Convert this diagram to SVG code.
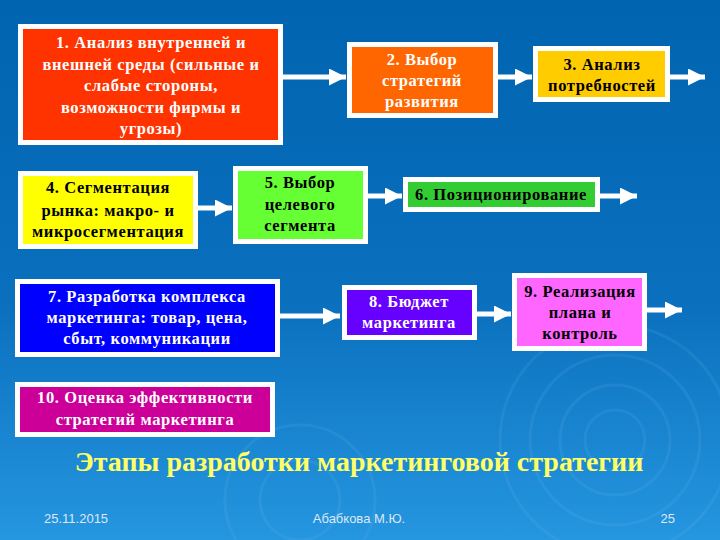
<svg xmlns="http://www.w3.org/2000/svg" width="720" height="540" viewBox="0 0 720 540">
<defs>
<linearGradient id="bg" x1="0" y1="0" x2="0" y2="1">
<stop offset="0" stop-color="#0064b0"/>
<stop offset="0.55" stop-color="#0a6fbd"/>
<stop offset="1" stop-color="#2596e0"/>
</linearGradient>
<marker id="ah" viewBox="0 0 10 10" refX="10" refY="5" markerWidth="4" markerHeight="3.4" orient="auto" markerUnits="strokeWidth">
<path d="M0,0 L10,5 L0,10 Z" fill="#ffffff"/>
</marker>
<style>
.box{stroke:#ffffff;stroke-width:5}
.t{font-family:"Liberation Serif","Times New Roman",serif;font-weight:bold;font-size:16.5px;text-anchor:middle;letter-spacing:0.6px}
.w{fill:#ffffff}
.k{fill:#000000}
.con{stroke:#ffffff;stroke-width:5;fill:none;marker-end:url(#ah)}
.rip{fill:none;stroke:#8fcdf7;stroke-opacity:0.1;stroke-width:3}
.foot{font-family:"Liberation Sans",Arial,sans-serif;font-size:13px;fill:#dde8f5}
</style>
</defs>
<rect x="0" y="0" width="720" height="540" fill="url(#bg)"/>
<g id="ripples">
<circle class="rip" cx="615" cy="440" r="30"/>
<circle class="rip" cx="615" cy="440" r="55"/>
<circle class="rip" cx="615" cy="440" r="85"/>
<circle class="rip" cx="615" cy="440" r="115"/>
<circle class="rip" cx="300" cy="500" r="40"/>
<circle class="rip" cx="300" cy="500" r="75"/>
</g>
<g id="connectors">
<line class="con" x1="283" y1="77" x2="346" y2="77"/>
<line class="con" x1="498" y1="77" x2="532" y2="77"/>
<line class="con" x1="670" y1="77" x2="705" y2="77"/>
<line class="con" x1="198" y1="208" x2="232" y2="208"/>
<line class="con" x1="368" y1="196" x2="402" y2="196"/>
<line class="con" x1="600" y1="196" x2="637" y2="196"/>
<line class="con" x1="280" y1="316" x2="340" y2="316"/>
<line class="con" x1="477" y1="314" x2="511" y2="314"/>
<line class="con" x1="647" y1="310" x2="682" y2="310"/>
</g>
<g id="n1">
<rect class="box" x="20.5" y="26.5" width="260" height="116" fill="#ff3300"/>
<text class="t w" x="151" y="48">1. Анализ внутренней и</text>
<text class="t w" x="151" y="69.5">внешней среды (сильные и</text>
<text class="t w" x="151" y="91">слабые стороны,</text>
<text class="t w" x="151" y="112.5">возможности фирмы и</text>
<text class="t w" x="151" y="134">угрозы)</text>
</g>
<g id="n2">
<rect class="box" x="349.5" y="44.5" width="146" height="71" fill="#ff6600"/>
<text class="t w" x="422" y="65">2. Выбор</text>
<text class="t w" x="422" y="86">стратегий</text>
<text class="t w" x="422" y="107">развития</text>
</g>
<g id="n3">
<rect class="box" x="535.5" y="48.5" width="132" height="51" fill="#ffcc00"/>
<text class="t k" x="602" y="70">3. Анализ</text>
<text class="t k" x="602" y="91">потребностей</text>
</g>
<g id="n4">
<rect class="box" x="20.5" y="173.5" width="175" height="73" fill="#ffff00"/>
<text class="t k" x="108" y="193">4. Сегментация</text>
<text class="t k" x="108" y="216">рынка: макро- и</text>
<text class="t k" x="108" y="237">микросегментация</text>
</g>
<g id="n5">
<rect class="box" x="235.5" y="168.5" width="130" height="73" fill="#66ff33"/>
<text class="t k" x="300" y="188">5. Выбор</text>
<text class="t k" x="300" y="210">целевого</text>
<text class="t k" x="300" y="231">сегмента</text>
</g>
<g id="n6">
<rect class="box" x="405.5" y="179.5" width="192" height="30" fill="#33cc33"/>
<text class="t k" x="501" y="200">6. Позиционирование</text>
</g>
<g id="n7">
<rect class="box" x="17.5" y="281.5" width="260" height="73" fill="#0000ff"/>
<text class="t w" x="147" y="302">7. Разработка комплекса</text>
<text class="t w" x="147" y="323">маркетинга: товар, цена,</text>
<text class="t w" x="147" y="344">сбыт, коммуникации</text>
</g>
<g id="n8">
<rect class="box" x="344.5" y="287.5" width="130" height="50" fill="#6600ff"/>
<text class="t w" x="409" y="307">8. Бюджет</text>
<text class="t w" x="409" y="328">маркетинга</text>
</g>
<g id="n9">
<rect class="box" x="514.5" y="275.5" width="130" height="73" fill="#ff66ff"/>
<text class="t k" x="580" y="297">9. Реализация</text>
<text class="t k" x="580" y="318">плана и</text>
<text class="t k" x="580" y="339">контроль</text>
</g>
<g id="n10">
<rect class="box" x="17.5" y="384.5" width="255" height="50" fill="#cc0099"/>
<text class="t w" x="145" y="403">10. Оценка эффективности</text>
<text class="t w" x="145" y="425">стратегий маркетинга</text>
</g>
<text x="359" y="471" font-family="'Liberation Serif','Times New Roman',serif" font-weight="bold" font-size="28" fill="#ffff66" text-anchor="middle">Этапы разработки маркетинговой стратегии</text>
<text class="foot" x="44" y="523">25.11.2015</text>
<text class="foot" x="359" y="523" text-anchor="middle">Абабкова М.Ю.</text>
<text class="foot" x="675" y="523" text-anchor="end">25</text>
</svg>
